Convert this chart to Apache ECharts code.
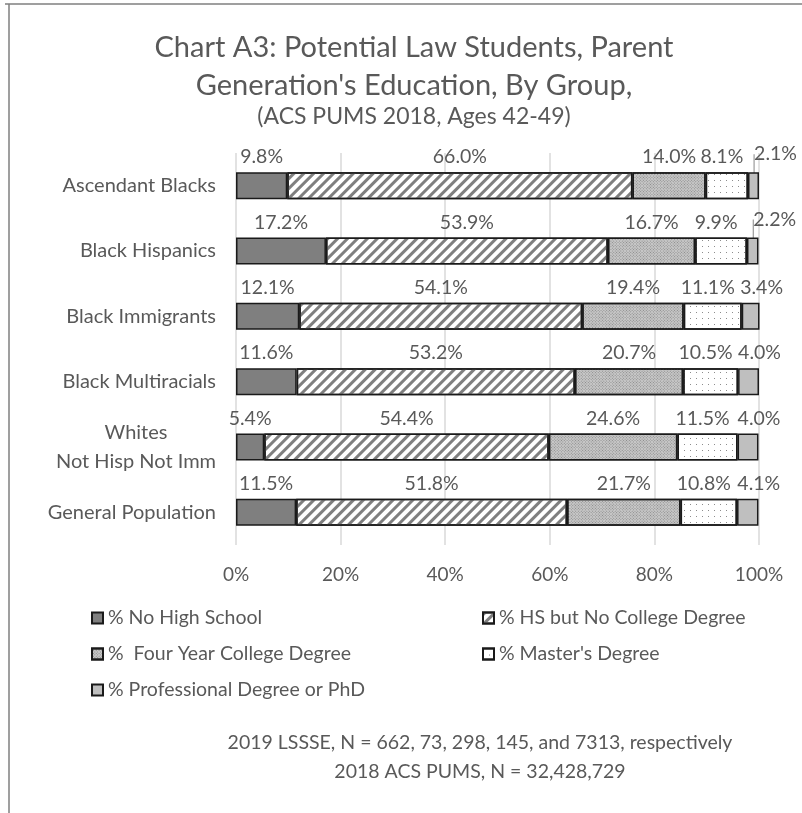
<!DOCTYPE html>
<html>
<head>
<meta charset="utf-8">
<script src="https://cdn.jsdelivr.net/npm/echarts@6/dist/echarts.min.js"></script>
<style>
  html, body { margin: 0; padding: 0; background: #fff; }
  #chart { width: 802px; height: 813px; }
</style>
</head>
<body>
<div id="chart"></div>
<script>
// data
const groups = [
  "Ascendant Blacks",
  "Black Hispanics",
  "Black Immigrants",
  "Black Multiracials",
  "Whites\nNot Hisp Not Imm",
  "General Population"
];
const seriesNames = [
  "% No High School",
  "% HS but No College Degree",
  "%  Four Year College Degree",
  "% Master's Degree",
  "% Professional Degree or PhD"
];
const noHighSchool = [9.8, 17.2, 12.1, 11.6, 5.4, 11.5];
const hsNoCollege = [66.0, 53.9, 54.1, 53.2, 54.4, 51.8];
const fourYear = [14.0, 16.7, 19.4, 20.7, 24.6, 21.7];
const masters = [8.1, 9.9, 11.1, 10.5, 11.5, 10.8];
const professional = [2.1, 2.2, 3.4, 4.0, 4.0, 4.1];
const xTicks = [0, 20, 40, 60, 80, 100];

const FONT = "Lato";
const TXT = "#595959";

const fills = [
  { color: "#7f7f7f" },
  { color: "#ffffff", decal: { symbol: "rect", symbolSize: 1, color: "#7f7f7f", dashArrayX: [1, 0], dashArrayY: [3, 4], rotation: -Math.PI / 4 } },
  { color: "#c8c8c8", decal: { symbol: "rect", symbolSize: 1, color: "#8a8a8a", dashArrayX: [1, 1], dashArrayY: [1, 1], rotation: Math.PI / 4 } },
  { color: "#ffffff", decal: { symbol: "rect", symbolSize: 1, color: "#8c8c8c", dashArrayX: [1, 5], dashArrayY: [1, 5], rotation: 0 } },
  { color: "#bfbfbf" }
];
const values = [noHighSchool, hsNoCollege, fourYear, masters, professional];

const chart = echarts.init(document.getElementById("chart"));

const series = seriesNames.map(function (name, i) {
  const s = {
    name: name,
    type: "bar",
    stack: "total",
    barWidth: 27,
    itemStyle: Object.assign({ borderColor: "#1a1a1a", borderWidth: 1.5 }, fills[i]),
    label: {
      show: true,
      position: "top",
      distance: 5,
      fontFamily: FONT,
      fontSize: 19.5,
      color: TXT,
      formatter: function (p) { return p.value.toFixed(1) + "%"; }
    },
    emphasis: { disabled: true },
    data: values[i].map(function (v) {
      return i === 4 ? { value: v, labelLine: { show: v < 3 } } : v;
    })
  };
  if (i === 3) {
    s.labelLayout = function () { return { dx: -5 }; };
  }
  if (i === 4) {
    s.labelLine = { show: false, lineStyle: { color: "#9a9a9a", width: 1.2 } };
    s.labelLayout = function (p) {
      return professional[p.dataIndex] < 3 ? { dx: 22, dy: -3 } : { dx: 11 };
    };
  }
  return s;
});

const legendText = { fontFamily: FONT, fontSize: 19.5, color: TXT, lineHeight: 20 };

const option = {
  animation: false,
  title: {
    text: "Chart A3: Potential Law Students, Parent\nGeneration's Education, By Group,",
    subtext: "(ACS PUMS 2018, Ages 42-49)",
    left: 409,
    textAlign: "center",
    top: 24,
    itemGap: -2,
    textStyle: { fontFamily: FONT, fontSize: 29, fontWeight: "normal", color: TXT, lineHeight: 38 },
    subtextStyle: { fontFamily: FONT, fontSize: 23, color: TXT, lineHeight: 28 }
  },
  legend: [
    {
      data: [seriesNames[0], seriesNames[2], seriesNames[4]],
      orient: "vertical",
      left: 86,
      top: 603,
      icon: "rect",
      itemWidth: 11,
      itemHeight: 11,
      itemGap: 16,
      textStyle: legendText
    },
    {
      data: [seriesNames[1], seriesNames[3]],
      orient: "vertical",
      left: 477,
      top: 603,
      icon: "rect",
      itemWidth: 11,
      itemHeight: 11,
      itemGap: 16,
      textStyle: legendText
    }
  ],
  grid: { left: 236, right: 43, top: 153, bottom: 268 },
  xAxis: {
    type: "value",
    min: xTicks[0],
    max: xTicks[xTicks.length - 1],
    interval: xTicks[1] - xTicks[0],
    axisLine: { show: false },
    axisTick: { show: false },
    splitLine: { lineStyle: { color: "#d9d9d9", width: 1.5 } },
    axisLabel: { fontFamily: FONT, fontSize: 19, color: TXT, margin: 20, formatter: "{value}%" }
  },
  yAxis: {
    type: "category",
    inverse: true,
    data: groups,
    axisLine: { show: false },
    axisTick: { show: false },
    axisLabel: {
      fontFamily: FONT,
      fontSize: 20,
      color: TXT,
      margin: 20,
      lineHeight: 29,
      formatter: function (v) {
        if (v.indexOf("\n") < 0) return v;
        return v.split("\n").map(function (t) { return "{c|" + t + "}"; }).join("\n");
      },
      rich: { c: { width: 160, align: "center", fontFamily: FONT, fontSize: 20, color: TXT, lineHeight: 29 } }
    }
  },
  graphic: [
    { type: "line", shape: { x1: 5, y1: 4, x2: 802, y2: 4 }, style: { stroke: "#7f7f7f", lineWidth: 1.5 } },
    { type: "line", shape: { x1: 9, y1: 4, x2: 9, y2: 813 }, style: { stroke: "#7f7f7f", lineWidth: 1.5 } },
    {
      type: "text",
      x: 480,
      y: 728,
      style: {
        text: "2019 LSSSE, N = 662, 73, 298, 145, and 7313, respectively\n2018 ACS PUMS, N = 32,428,729",
        font: "19.5px " + FONT, fill: TXT, textAlign: "center", lineHeight: 29
      }
    }
  ],
  series: series
};

chart.setOption(option);
</script>
</body>
</html>
